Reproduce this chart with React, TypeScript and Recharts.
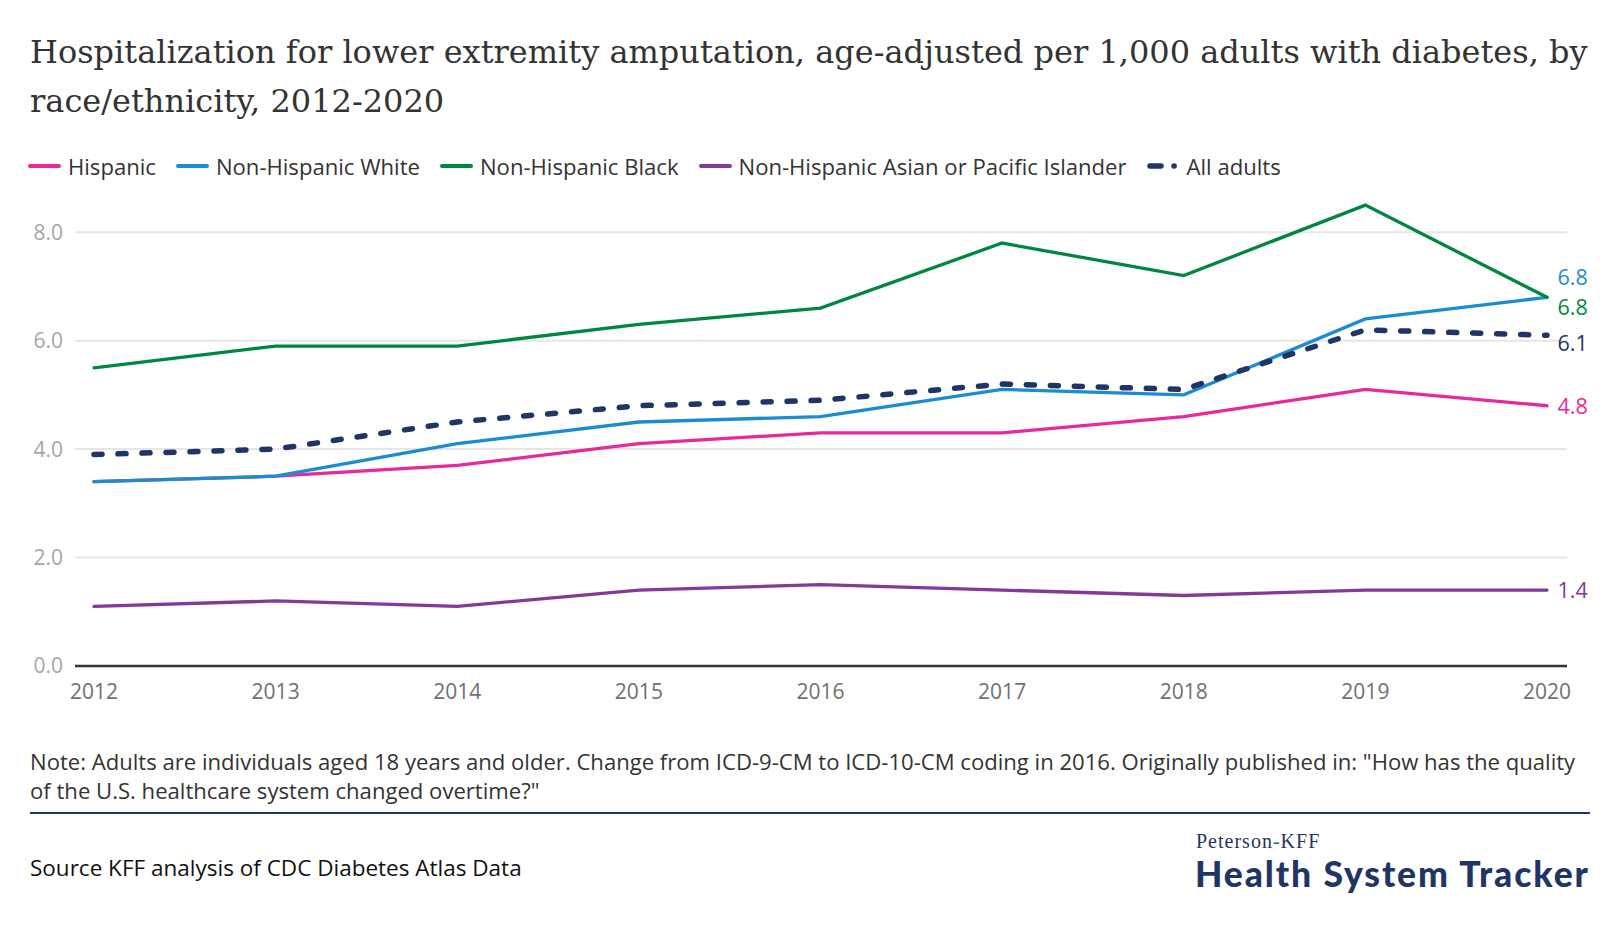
import React from "react";
import { LineChart, Line, XAxis, YAxis, ReferenceLine, LabelList } from "recharts";

const years = ["2012", "2013", "2014", "2015", "2016", "2017", "2018", "2019", "2020"];
const hispanic = [3.4, 3.5, 3.7, 4.1, 4.3, 4.3, 4.6, 5.1, 4.8];
const nhWhite = [3.4, 3.5, 4.1, 4.5, 4.6, 5.1, 5.0, 6.4, 6.8];
const nhBlack = [5.5, 5.9, 5.9, 6.3, 6.6, 7.8, 7.2, 8.5, 6.8];
const nhAsian = [1.1, 1.2, 1.1, 1.4, 1.5, 1.4, 1.3, 1.4, 1.4];
const allAdults = [3.9, 4.0, 4.5, 4.8, 4.9, 5.2, 5.1, 6.2, 6.1];
const yTicks = [0, 2, 4, 6, 8];

const series = [
  { key: "hispanic", name: "Hispanic", values: hispanic, color: "#E9289C", dashed: false, labelDy: 0 },
  { key: "nhWhite", name: "Non-Hispanic White", values: nhWhite, color: "#1B8CD0", dashed: false, labelDy: -21 },
  { key: "nhBlack", name: "Non-Hispanic Black", values: nhBlack, color: "#00873E", dashed: false, labelDy: 9 },
  { key: "nhAsian", name: "Non-Hispanic Asian or Pacific Islander", values: nhAsian, color: "#833A97", dashed: false, labelDy: -1 },
  { key: "allAdults", name: "All adults", values: allAdults, color: "#1F3566", dashed: true, labelDy: 7 },
];

const data = years.map((year, i) => {
  const row: Record<string, string | number> = { year };
  series.forEach((s) => {
    row[s.key] = s.values[i];
  });
  return row;
});

const SANS = "'Open Sans', Lato, sans-serif";
const SERIF = "'DejaVu Serif', serif";

const LegendRow = () => (
  <div
    style={{
      position: "absolute",
      left: 28,
      top: 152,
      height: 28,
      display: "flex",
      alignItems: "center",
      fontFamily: SANS,
      fontSize: 22.1,
      lineHeight: "28px",
      color: "#333",
      whiteSpace: "nowrap",
    }}
  >
    {series.map((s) => (
      <div key={s.key} style={{ display: "flex", alignItems: "center", marginRight: 20 }}>
        <svg width={36} height={10} style={{ marginRight: 4 }}>
          {s.dashed ? (
            <g>
              <line x1={3} y1={5} x2={14} y2={5} stroke={s.color} strokeWidth={5.5} strokeLinecap="round" />
              <line x1={27} y1={5} x2={27.1} y2={5} stroke={s.color} strokeWidth={5.5} strokeLinecap="round" />
            </g>
          ) : (
            <line x1={2} y1={5} x2={31} y2={5} stroke={s.color} strokeWidth={4} strokeLinecap="round" />
          )}
        </svg>
        <span>{s.name}</span>
      </div>
    ))}
  </div>
);

const makeEndLabel = (color: string, dy: number) => (props: any) => {
  const { x, y, index, value } = props;
  if (index !== years.length - 1) return null;
  return (
    <text x={x + 10.5} y={y + dy} fill={color} fontFamily={SANS} fontSize={21.5} dominantBaseline="central">
      {Number(value).toFixed(1)}
    </text>
  );
};

export default function App() {
  return (
    <div style={{ position: "relative", width: 1620, height: 950, background: "#fff", overflow: "hidden" }}>
      <style>{`body{margin:0;background:#fff}`}</style>
      <div
        style={{
          position: "absolute",
          left: 30,
          top: 28,
          fontFamily: SERIF,
          fontSize: 32,
          lineHeight: "49px",
          color: "#333",
          whiteSpace: "nowrap",
        }}
      >
        <div>Hospitalization for lower extremity amputation, age-adjusted per 1,000 adults with diabetes, by</div>
        <div>race/ethnicity, 2012-2020</div>
      </div>

      <LegendRow />

      <div style={{ position: "absolute", left: 0, top: 0 }}>
        <LineChart width={1620} height={720} data={data} margin={{ top: 178, right: 53, left: 0, bottom: 0 }}>
          {yTicks
            .filter((t) => t > 0)
            .map((t) => (
              <ReferenceLine key={`grid-${t}`} y={t} stroke="#E6E6E6" strokeWidth={2} ifOverflow="extendDomain" />
            ))}
          <XAxis
            dataKey="year"
            padding={{ left: 19, right: 20 }}
            height={54}
            tickLine={false}
            tickSize={0}
            tickMargin={18}
            axisLine={{ stroke: "#333", strokeWidth: 2.5 }}
            tick={{ fill: "#707070", fontSize: 21, fontFamily: SANS }}
            interval={0}
          />
          <YAxis
            domain={[0, 9]}
            ticks={yTicks}
            width={75}
            axisLine={false}
            tickLine={false}
            tickSize={0}
            tickMargin={12}
            tick={{ fill: "#A6A6A6", fontSize: 21, fontFamily: SANS }}
            tickFormatter={(v: number) => v.toFixed(1)}
          />
          {series.map((s) => (
            <Line
              key={s.key}
              type="linear"
              dataKey={s.key}
              name={s.name}
              stroke={s.color}
              strokeWidth={s.dashed ? 5.5 : 3.3}
              strokeDasharray={s.dashed ? "8 16" : undefined}
              strokeLinecap="round"
              dot={false}
              activeDot={false}
              isAnimationActive={false}
            >
              <LabelList dataKey={s.key} content={makeEndLabel(s.color, s.labelDy)} />
            </Line>
          ))}
        </LineChart>
      </div>

      <div
        style={{
          position: "absolute",
          left: 30,
          top: 747,
          fontFamily: SANS,
          fontSize: 22.1,
          lineHeight: "28.5px",
          color: "#333",
          whiteSpace: "nowrap",
        }}
      >
        <div>Note: Adults are individuals aged 18 years and older. Change from ICD-9-CM to ICD-10-CM coding in 2016. Originally published in: "How has the quality</div>
        <div>of the U.S. healthcare system changed overtime?"</div>
      </div>

      <div style={{ position: "absolute", left: 30, top: 811.5, width: 1560, height: 2.5, background: "#1F3566" }} />

      <div
        style={{
          position: "absolute",
          left: 30,
          top: 853,
          fontFamily: SANS,
          fontSize: 22.5,
          lineHeight: "30px",
          color: "#111",
          whiteSpace: "nowrap",
        }}
      >
        Source KFF analysis of CDC Diabetes Atlas Data
      </div>

      <div
        style={{
          position: "absolute",
          left: 1196,
          top: 830.5,
          fontFamily: "'Liberation Serif', serif",
          fontSize: 20,
          lineHeight: "20px",
          letterSpacing: 1,
          color: "#1F3566",
          whiteSpace: "nowrap",
        }}
      >
        Peterson<span style={{ color: "#00873E" }}>-</span>KFF
      </div>
      <div
        style={{
          position: "absolute",
          left: 1195,
          top: 855.5,
          fontFamily: "Lato, sans-serif",
          fontWeight: 900,
          fontSize: 35.5,
          lineHeight: "36px",
          letterSpacing: 1.9,
          color: "#1F3566",
          whiteSpace: "nowrap",
        }}
      >
        Health System Tracker
      </div>
    </div>
  );
}
